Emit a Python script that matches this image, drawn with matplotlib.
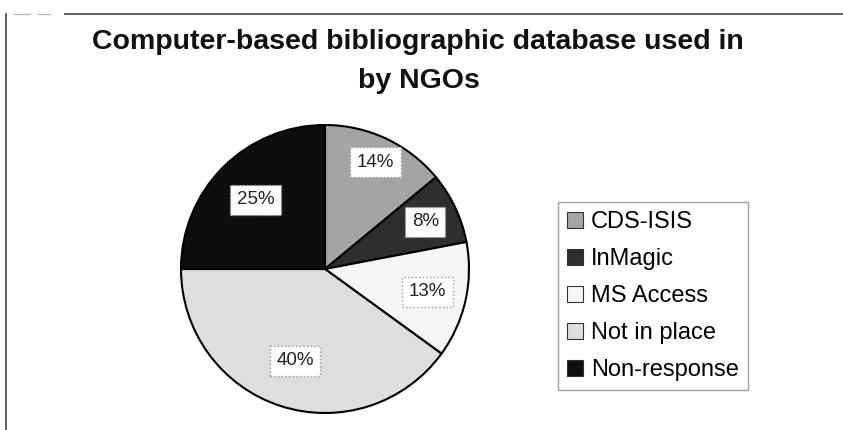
import numpy as np
import matplotlib
matplotlib.use("Agg")
import matplotlib.pyplot as plt
from matplotlib.lines import Line2D

plt.rcParams['font.family'] = ['Liberation Sans', 'DejaVu Sans']

categories = ["CDS-ISIS", "InMagic", "MS Access", "Not in place", "Non-response"]
values = [14, 8, 13, 40, 25]
colors = ["#a4a4a4", "#2e2e2e", "#f6f6f6", "#dedede", "#0e0e0e"]
title_lines = ["Computer-based bibliographic database used in", "by NGOs"]

W, H = 843, 430
fig = plt.figure(figsize=(W / 100, H / 100), dpi=100)
fig.patch.set_facecolor("white")

cx, cy, r = 325, 269, 144
ax = fig.add_axes([(cx - r) / W, 1 - (cy + r) / H, 2 * r / W, 2 * r / H])
wedges, _ = ax.pie(values, colors=colors, startangle=90, counterclock=False,
                   radius=1.0,
                   wedgeprops=dict(edgecolor="black", linewidth=1.5))
ax.set_xlim(-1.0, 1.0)
ax.set_ylim(-1.0, 1.0)
ax.set_aspect("equal")
ax.axis("off")

dists = [0.82, 0.77, 0.73, 0.67, 0.68]
for w, v, d in zip(wedges, values, dists):
    mid = np.deg2rad((w.theta1 + w.theta2) / 2)
    x, y = d * np.cos(mid), d * np.sin(mid)
    ax.text(x, y, f"{v}%", ha="center", va="center", fontsize=13.5,
            color="#222222",
            bbox=dict(boxstyle="square,pad=0.35", fc="white",
                      ec="#999999", lw=1.0, ls=":"))

fig.text(418 / W, 1 - 49 / H, title_lines[0], ha="center", va="baseline",
         fontsize=20.5, fontweight="bold", color="#111111")
fig.text(419 / W, 1 - 88 / H, title_lines[1], ha="center", va="baseline",
         fontsize=20.5, fontweight="bold", color="#111111")

leg = fig.legend(wedges, categories, loc="upper left",
                 bbox_to_anchor=(558 / W, 1 - 202 / H),
                 fontsize=17, frameon=True, fancybox=False,
                 handlelength=0.65, handleheight=0.65, handletextpad=0.35,
                 labelspacing=0.63, borderpad=0.4, borderaxespad=0,
                 edgecolor="#888888")
leg.get_frame().set_linewidth(1.0)
for h in leg.legend_handles:
    h.set_edgecolor("#333333")
    h.set_linewidth(0.8)

# outer frame lines
fig.add_artist(Line2D([6 / W, 6 / W], [1 - 14 / H, 0], color="#444444", lw=1.2))
fig.add_artist(Line2D([65 / W, 1], [1 - 14 / H, 1 - 14 / H], color="#444444", lw=1.2))
fig.add_artist(Line2D([14 / W, 30 / W], [1 - 14 / H, 1 - 14 / H], color="#bbbbbb", lw=1.0))
fig.add_artist(Line2D([38 / W, 50 / W], [1 - 14 / H, 1 - 14 / H], color="#bbbbbb", lw=1.0))

fig.savefig("out.png", dpi=100)
